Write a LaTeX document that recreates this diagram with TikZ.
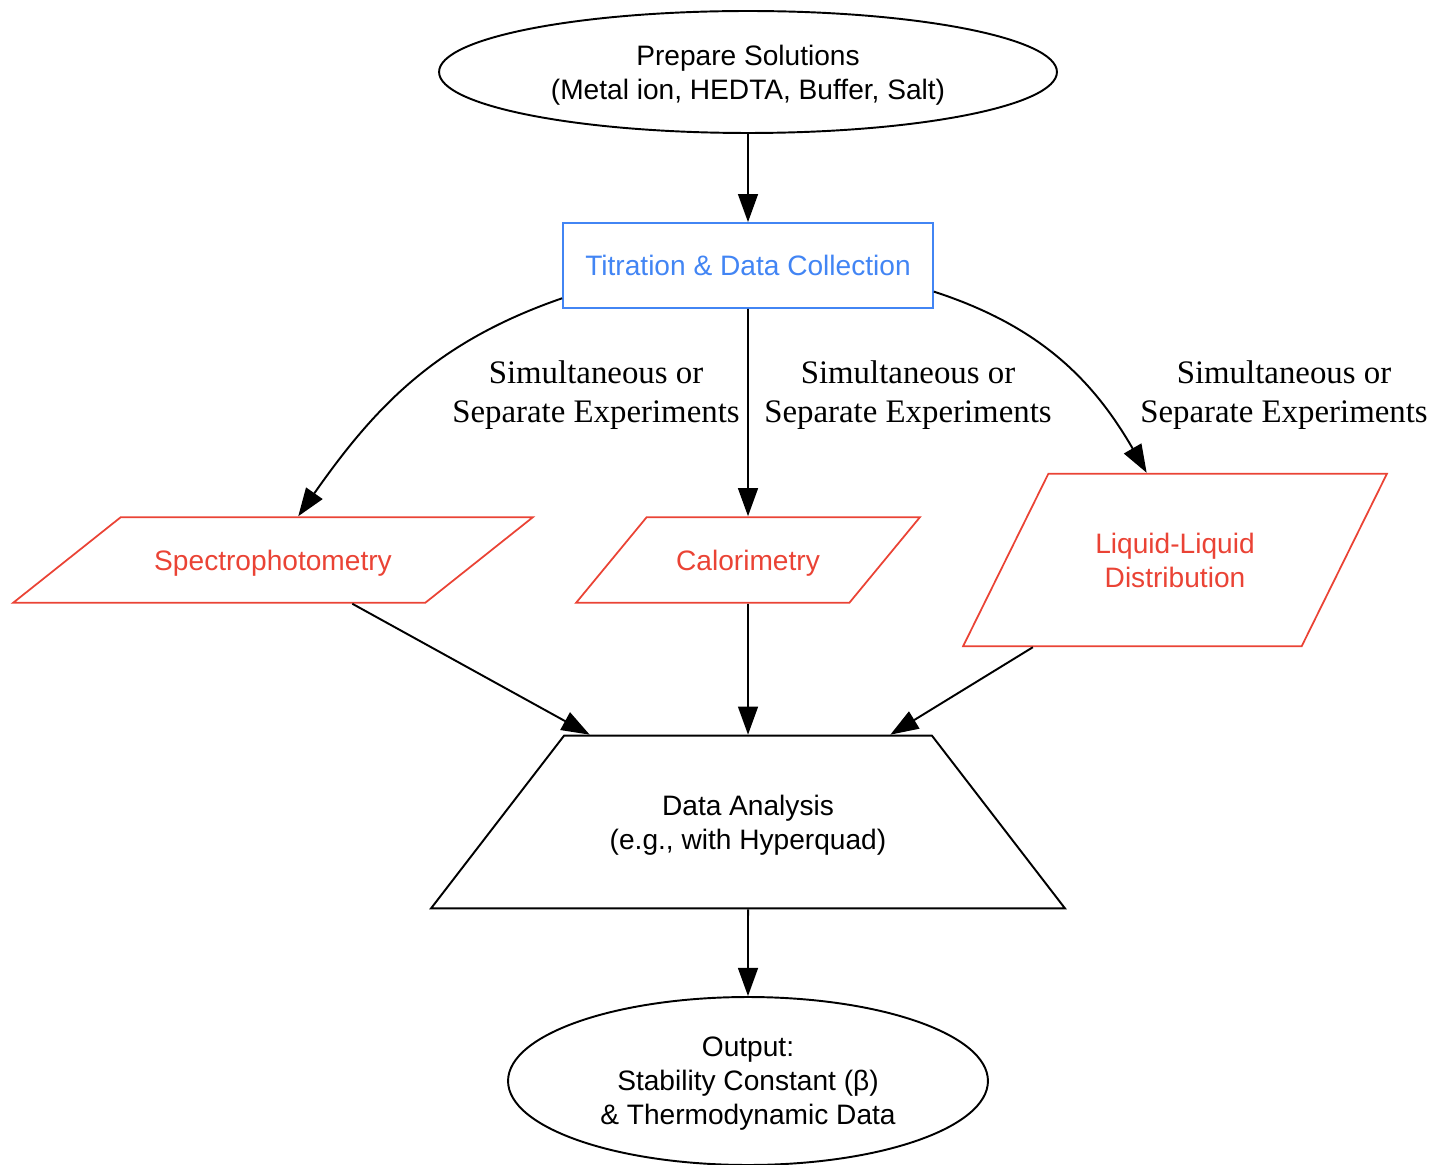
\documentclass[tikz,border=0pt]{standalone}
\usepackage{fontspec}
\setmainfont{Liberation Serif}
\setsansfont{Liberation Sans}
\usetikzlibrary{arrows.meta,shapes.geometric}
\definecolor{gblue}{HTML}{4285F4}
\definecolor{gred}{HTML}{EA4335}

\begin{document}
\begin{tikzpicture}[x=0.02cm,y=-0.02cm,
		every node/.style={font=\sffamily\fontsize{16}{19.3}\selectfont, align=center, line width=1.1pt},
		flow/.style={draw, line width=1.1pt, -{Triangle[length=16pt,width=11.3pt]}},
		oval/.style={draw, ellipse, inner sep=0pt, text depth=0pt},
		task/.style={draw=gblue, text=gblue, rectangle, line width=1pt},
		method/.style={draw=gred, text=gred, trapezium, trapezium stretches body, line width=1pt, inner xsep=0pt},
		lbl/.style={font=\rmfamily\fontsize{18.7}{22.1}\selectfont}]
	\useasboundingbox (0,0) rectangle (1433,1165);
	
	% main steps
	\node[oval, minimum width=12.36cm, minimum height=2.44cm] (prep) at (748,72) {Prepare Solutions\\(Metal ion, HEDTA, Buffer, Salt)};
	\node[task, minimum width=7.4cm, minimum height=1.7cm] (titr) at (748,265.5) {Titration \& Data Collection};
	
	\node[method, trapezium left angle=38.5, trapezium right angle=141.5, minimum width=10.4cm, text height=13.8pt, text depth=2.2pt, inner ysep=16.4pt] (spec) at (273,560) {Spectrophotometry};
	\node[method, trapezium left angle=50.5, trapezium right angle=129.5, minimum width=6.88cm, text height=13.8pt, text depth=2.2pt, inner ysep=16.4pt] (calo) at (748,560) {Calorimetry};
	\node[method, trapezium left angle=63.7, trapezium right angle=116.3, minimum width=8.48cm, text depth=0pt, inner ysep=33.7pt] (liq) at (1175,560) {Liquid-Liquid\\Distribution};
	
	\node[draw, trapezium, trapezium stretches body, trapezium left angle=52.4, trapezium right angle=52.4, minimum width=12.68cm, text depth=0pt, inner xsep=0pt, inner ysep=33.7pt] (anal) at (748,822) {Data Analysis\\(e.g., with Hyperquad)};
	\node[oval, minimum width=9.6cm, minimum height=3.36cm, text depth=-2.5pt] (out) at (748,1081) {Output:\\Stability Constant (β)\\\& Thermodynamic Data};
	
	% edge labels
	\node[lbl] (lab1) at (596,395) {Simultaneous or\\Separate Experiments};
	\node[lbl] (lab2) at (908,395) {Simultaneous or\\Separate Experiments};
	\node[lbl] (lab3) at (1284,395) {Simultaneous or\\Separate Experiments};
	
	% connectors
	\draw[flow] (prep) -- (titr);
	\draw[flow] (titr.190) to[out=199,in=55] (spec.60);
	\draw[flow] (titr) -- (calo);
	\draw[flow] (titr.352) to[out=-18,in=120] (liq.108);
	\draw[flow] (spec) -- (anal);
	\draw[flow] (calo) -- (anal);
	\draw[flow] (liq) -- (anal);
	\draw[flow] (anal) -- (out);
\end{tikzpicture}
\end{document}
